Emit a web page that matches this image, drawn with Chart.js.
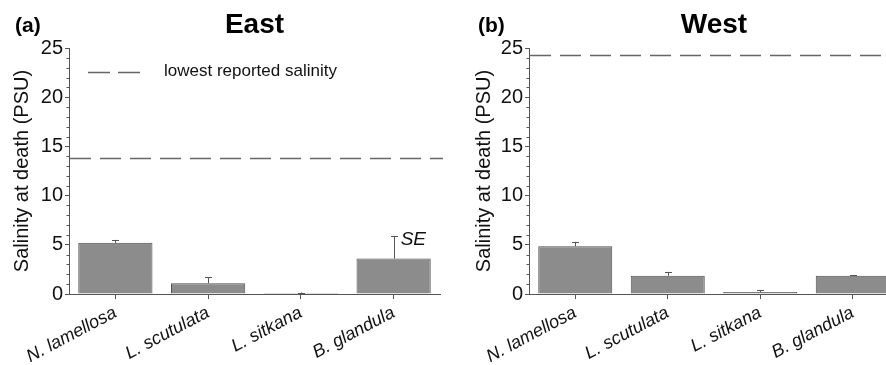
<!DOCTYPE html>
<html>
<head>
<meta charset="utf-8">
<script src="https://cdn.jsdelivr.net/npm/chart.js@4"></script>
<style>
  html, body { margin:0; padding:0; background:#fff; width:886px; height:365px; overflow:hidden; }
  #wrapA { position:absolute; left:0; top:0; width:443px; height:365px; }
  #wrapB { position:absolute; left:443px; top:0; width:460px; height:365px; }
</style>
</head>
<body>
<div id="wrapA"><canvas id="cA" width="443" height="365"></canvas></div>
<div id="wrapB"><canvas id="cB" width="460" height="365"></canvas></div>
<script>
const categories = ['N. lamellosa', 'L. scutulata', 'L. sitkana', 'B. glandula'];
const eastMeans = [5.2, 1.1, 0.1, 3.6];
const eastSE    = [0.3, 0.6, 0.05, 2.3];
const westMeans = [4.85, 1.85, 0.2, 1.85];
const westSE    = [0.45, 0.4, 0.2, 0.07];
const eastLowest = 13.8;
const westLowest = 24.3;
const yMin = 0, yMax = 25, yMajorStep = 5, yMinorStep = 1;
const yAxisTitle = 'Salinity at death (PSU)';
const legendText = 'lowest reported salinity';

const FONT = "'Liberation Sans', Arial, Helvetica, sans-serif";
const AXIS = '#555';

const decor = {
  id: 'decor',
  afterDatasetsDraw(chart, args, o) {
    const ctx = chart.ctx, ca = chart.chartArea;
    const y = chart.scales.y;
    ctx.save();
    // minor ticks
    ctx.strokeStyle = AXIS; ctx.lineWidth = 1;
    for (let v = yMin; v <= yMax; v += yMinorStep) {
      if (v % yMajorStep === 0) continue;
      const py = Math.round(y.getPixelForValue(v)) + 0.5;
      ctx.beginPath(); ctx.moveTo(ca.left - 2.5, py); ctx.lineTo(ca.left, py); ctx.stroke();
    }
    // error bars
    const meta = chart.getDatasetMeta(0);
    ctx.strokeStyle = '#555'; ctx.lineWidth = 1;
    o.means.forEach((m, i) => {
      const px = Math.round(meta.data[i].x) + 0.5;
      const top = y.getPixelForValue(m + o.se[i]);
      const base = y.getPixelForValue(m);
      ctx.beginPath(); ctx.moveTo(px, base); ctx.lineTo(px, top); ctx.stroke();
      ctx.beginPath(); ctx.moveTo(px - 3.5, Math.round(top) + 0.5); ctx.lineTo(px + 3.5, Math.round(top) + 0.5); ctx.stroke();
    });
    if (o.seLabelIndex != null) {
      const i = o.seLabelIndex;
      const px = meta.data[i].x;
      const top = y.getPixelForValue(o.means[i] + o.se[i]);
      ctx.fillStyle = '#111';
      ctx.font = 'italic 19px ' + FONT;
      ctx.textAlign = 'left'; ctx.textBaseline = 'middle';
      ctx.fillText('SE', px + 7, top + 4);
    }
    // threshold dashed line
    const ly = Math.round(y.getPixelForValue(o.lowest)) + 0.5;
    ctx.strokeStyle = '#666'; ctx.lineWidth = 1.3;
    ctx.setLineDash([21, 9]);
    ctx.beginPath(); ctx.moveTo(ca.left + 1, ly); ctx.lineTo(ca.right + 40, ly); ctx.stroke();
    // legend
    if (o.legend) {
      const gy = ca.top + 24.5;
      ctx.setLineDash([22, 8]);
      ctx.beginPath(); ctx.moveTo(ca.left + 19, gy); ctx.lineTo(ca.left + 71, gy); ctx.stroke();
      ctx.setLineDash([]);
      ctx.fillStyle = '#111';
      ctx.font = '17px ' + FONT;
      ctx.textAlign = 'left'; ctx.textBaseline = 'middle';
      ctx.fillText(legendText, ca.left + 95, gy - 1);
    }
    ctx.setLineDash([]);
    // titles
    ctx.fillStyle = '#000';
    ctx.font = 'bold 28px ' + FONT;
    ctx.textAlign = 'center'; ctx.textBaseline = 'alphabetic';
    ctx.fillText(o.title, (ca.left + ca.right) / 2, 33);
    ctx.font = 'bold 21px ' + FONT;
    ctx.textAlign = 'left';
    ctx.fillText(o.panel, o.panelX, 32);
    ctx.restore();
  }
};

function makeChart(id, means, se, lowest, title, panel, panelX, yWidth, titlePad, padRight, legend, seLabelIndex) {
  return new Chart(document.getElementById(id), {
    type: 'bar',
    data: {
      labels: categories,
      datasets: [{
        data: means,
        backgroundColor: '#8c8c8c',
        borderColor: '#505050',
        borderWidth: 1,
        borderSkipped: 'bottom',
        categoryPercentage: 0.8,
        barPercentage: 1.0
      }]
    },
    options: {
      responsive: false,
      animation: false,
      devicePixelRatio: 1,
      layout: { padding: { left: 0, top: 48, right: padRight, bottom: 0 } },
      plugins: {
        legend: { display: false },
        title: { display: false },
        tooltip: { enabled: false },
        decor: { means, se, lowest, title, panel, panelX, legend, seLabelIndex }
      },
      scales: {
        x: {
          offset: true,
          grid: { display: true, drawOnChartArea: false, offset: false, tickLength: 5, color: AXIS },
          border: { color: AXIS, width: 1 },
          ticks: {
            color: '#111', maxRotation: 28, minRotation: 28, padding: 3,
            font: { family: FONT, size: 18, style: 'italic' }
          },
          afterFit(s) { s.height = 71; }
        },
        y: {
          min: yMin, max: yMax,
          grid: { display: true, drawOnChartArea: false, tickLength: 4, color: AXIS },
          border: { color: AXIS, width: 1 },
          ticks: { stepSize: yMajorStep, color: '#111', padding: 2, font: { family: FONT, size: 20 } },
          title: { display: true, text: yAxisTitle, color: '#111', font: { family: FONT, size: 20 }, padding: { top: titlePad, bottom: 0 } },
          afterFit(s) { s.width = yWidth; }
        }
      }
    },
    plugins: [decor]
  });
}

makeChart('cA', eastMeans, eastSE, eastLowest, 'East', '(a)', 15, 69, 10, 3, true, 3);
makeChart('cB', westMeans, westSE, westLowest, 'West', '(b)', 35, 86, 29, 4, false, null);
</script>
</body>
</html>
